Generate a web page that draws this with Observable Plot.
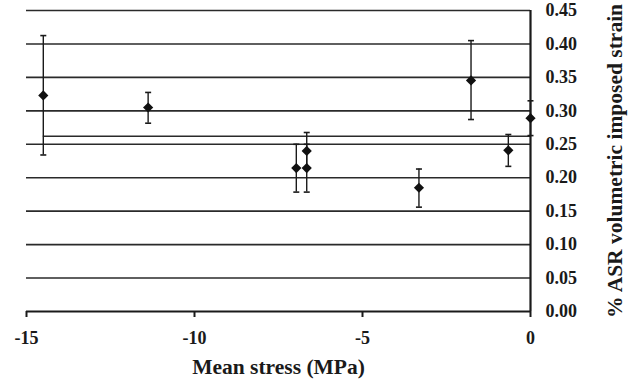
<!DOCTYPE html>
<html>
<head>
<meta charset="utf-8">
<script src="https://cdn.jsdelivr.net/npm/d3@7"></script>
<script src="https://cdn.jsdelivr.net/npm/@observablehq/plot@0.6"></script>
<style>
  html, body { margin: 0; padding: 0; background: #fff; }
  #chart svg text { font-family: 'Liberation Serif', 'Times New Roman', serif; font-weight: bold; }
  #chart g[aria-label="x-axis tick label"] text,
  #chart g[aria-label="y-axis tick label"] text { font-size: 18px; }
  #chart g[aria-label="x-axis label"] text,
  #chart g[aria-label="y-axis label"] text { font-size: 21.5px; }
</style>
</head>
<body>
<div id="chart"></div>
<script>
// Mean stress (MPa) and % ASR volumetric imposed strain
const stress  = [-14.5, -11.38, -6.97, -6.66, -6.66, -3.32, -1.77, -0.66, 0];
const strain  = [0.323, 0.305, 0.2145, 0.2145, 0.240, 0.185, 0.3455, 0.241, 0.289];
const errLow  = [0.234, 0.2815, 0.1785, 0.1785, 0.2145, 0.156, 0.287, 0.217, 0.263];
const errHigh = [0.4125, 0.3275, 0.250, 0.250, 0.2676, 0.213, 0.405, 0.2646, 0.315];
const meanStrain = 0.262;
const xTicks = [-15, -10, -5, 0];
const yTicks = [0, 0.05, 0.10, 0.15, 0.20, 0.25, 0.30, 0.35, 0.40, 0.45];

const data = stress.map((s, i) => ({x: s, y: strain[i], lo: errLow[i], hi: errHigh[i]}));

const cap = {
  draw(ctx) { ctx.moveTo(-3, 0); ctx.lineTo(3, 0); }
};

const ink = "#1a1a1a";

const chart = Plot.plot({
  width: 632,
  height: 380,
  marginLeft: 26,
  marginRight: 102,
  marginTop: 10,
  marginBottom: 69,
  style: {fontFamily: "'Liberation Serif', 'Times New Roman', serif", fontWeight: "bold", fontSize: "18px", color: ink, background: "#fff"},
  x: {domain: [-15, 0]},
  y: {domain: [0, 0.45]},
  marks: [
    Plot.ruleY(yTicks.slice(1), {stroke: "#2a2a2a", strokeWidth: 1.6}),
    Plot.ruleY([meanStrain], {x1: stress[0], x2: 0, stroke: "#2a2a2a", strokeWidth: 1.6}),
    Plot.ruleY([0], {stroke: ink, strokeWidth: 2.2}),
    Plot.ruleX([0], {y1: 0, y2: 0.45, stroke: ink, strokeWidth: 2.2}),
    Plot.ruleX(data, {x: "x", y1: "lo", y2: "hi", stroke: ink, strokeWidth: 1.4}),
    Plot.dot(data, {x: "x", y: "lo", symbol: cap, stroke: ink, strokeWidth: 1.6}),
    Plot.dot(data, {x: "x", y: "hi", symbol: cap, stroke: ink, strokeWidth: 1.6}),
    Plot.dot(data, {x: "x", y: "y", symbol: "diamond2", r: 4.6, fill: "#111", stroke: "none"}),
    Plot.axisX({ticks: xTicks, tickFormat: d => String(d), tickSize: 6, tickPadding: 14, fontSize: 18, stroke: ink, strokeWidth: 2,
      label: "Mean stress (MPa)", labelAnchor: "center", labelArrow: "none", labelOffset: 62}),
    Plot.axisY({anchor: "right", ticks: yTicks, tickFormat: d => d.toFixed(2), tickSize: 0, tickPadding: 15, fontSize: 18,
      label: "% ASR volumetric imposed strain", labelAnchor: "center", labelArrow: "none", labelOffset: 91})
  ]
});
document.getElementById("chart").appendChild(chart);
</script>
</body>
</html>
